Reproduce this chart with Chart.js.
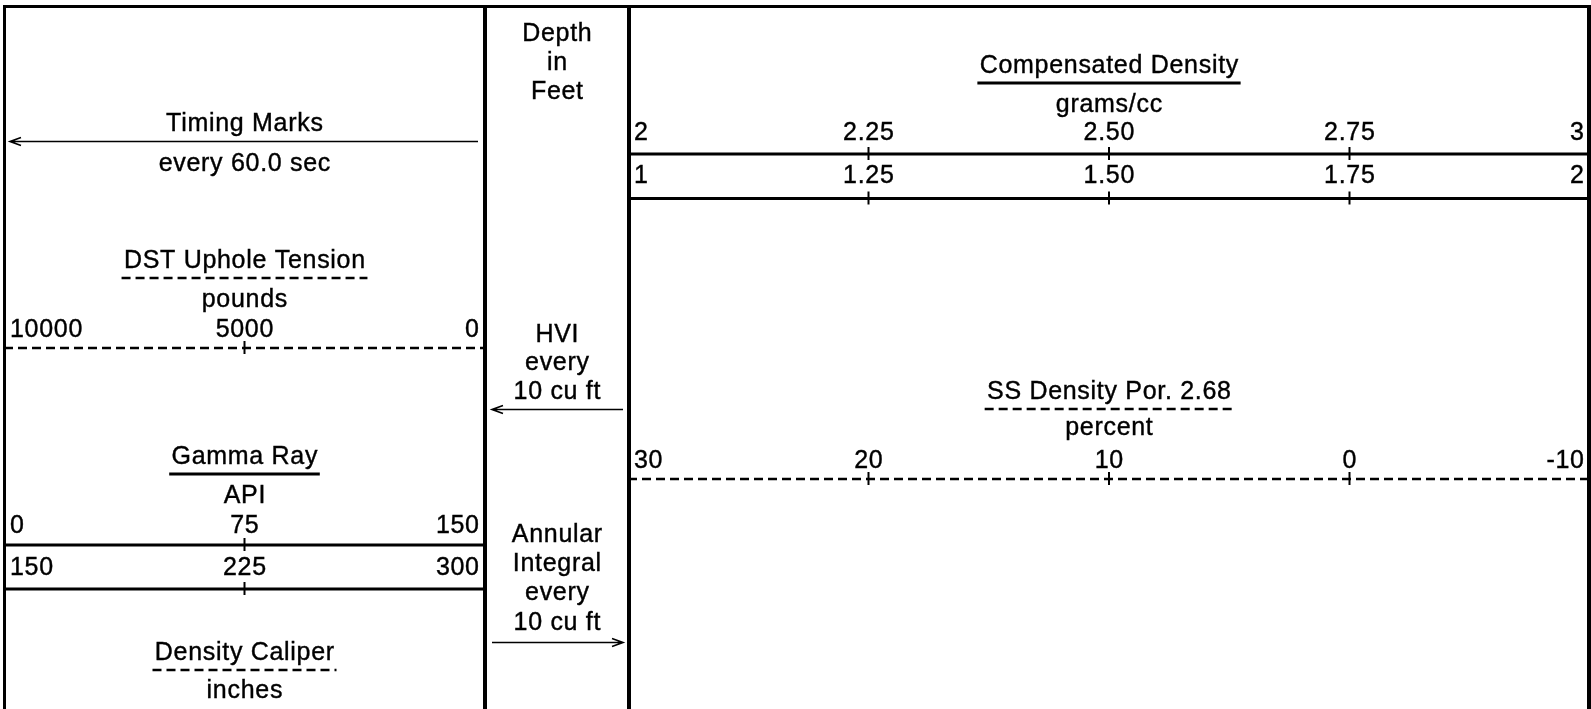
<!DOCTYPE html>
<html lang="en">
<head>
<meta charset="UTF-8">
<title>Log Header</title>
<script src="https://cdn.jsdelivr.net/npm/chart.js"></script>
<style>
  html, body { margin: 0; padding: 0; background: #fff; }
  #header { position: relative; width: 1591px; height: 709px; overflow: hidden; }
  #header canvas { position: absolute; top: 0; }
  .rule { position: absolute; background: #000; }
</style>
</head>
<body>
<div id="header">
  <canvas id="leftTrack" style="left:4px" width="481" height="709"></canvas>
  <canvas id="depthTrack" style="left:487px" width="140" height="709"></canvas>
  <canvas id="rightTrack" style="left:628px" width="962" height="709"></canvas>
  <div class="rule" style="left:3px;top:5px;width:1588px;height:3px"></div>
  <div class="rule" style="left:3px;top:5px;width:3px;height:704px"></div>
  <div class="rule" style="left:483px;top:5px;width:4px;height:704px"></div>
  <div class="rule" style="left:627px;top:5px;width:4px;height:704px"></div>
  <div class="rule" style="left:1587px;top:5px;width:4px;height:704px"></div>
</div>

<script>
// scale values of each curve
const tensionTicks = [10000, 5000, 0];
const tensionLabels = ['10000', '5000', '0'];
const gammaTicks = [0, 75, 150];
const gammaLabels = ['0', '75', '150'];
const gammaBackupTicks = [150, 225, 300];
const gammaBackupLabels = ['150', '225', '300'];
const densityTicks = [2, 2.25, 2.5, 2.75, 3];
const densityLabels = ['2', '2.25', '2.50', '2.75', '3'];
const densityBackupTicks = [1, 1.25, 1.5, 1.75, 2];
const densityBackupLabels = ['1', '1.25', '1.50', '1.75', '2'];
const porosityTicks = [30, 20, 10, 0, -10];
const porosityLabels = ['30', '20', '10', '0', '-10'];

// depth track captions
const depthLines = ['Depth', 'in', 'Feet'];
const hviLines = ['HVI', 'every', '10 cu ft'];
const annularLines = ['Annular', 'Integral', 'every', '10 cu ft'];

const FONT = '25px "Liberation Sans", Arial, sans-serif';
const SPACING = 0.7;

function axisFor(ticks) {
  const first = ticks[0], last = ticks[ticks.length - 1];
  return {
    type: 'linear', axis: 'x', display: false,
    min: Math.min(first, last), max: Math.max(first, last),
    reverse: first > last
  };
}

function hline(ctx, x0, x1, y, width, dashed) {
  ctx.save();
  ctx.lineWidth = width;
  ctx.setLineDash(dashed ? [9, 5] : []);
  ctx.beginPath();
  ctx.moveTo(x0, y);
  ctx.lineTo(x1, y);
  ctx.stroke();
  ctx.restore();
}

function arrow(ctx, x0, x1, y, head) {
  ctx.save();
  ctx.lineWidth = 1.6;
  ctx.beginPath();
  ctx.moveTo(x0, y);
  ctx.lineTo(x1, y);
  const hx = head === 'left' ? x0 : x1;
  const dir = head === 'left' ? 1 : -1;
  ctx.moveTo(hx + dir * 11, y - 4);
  ctx.lineTo(hx, y);
  ctx.lineTo(hx + dir * 11, y + 4);
  ctx.stroke();
  ctx.restore();
}

// filled text with a hairline stroke, closer to the heavy printer font
function label(ctx, text, x, y, align) {
  ctx.textAlign = align;
  ctx.fillText(text, x, y);
  ctx.strokeText(text, x, y);
}

function headerPlugin(items) {
  return {
    id: 'logHeader',
    afterDraw(chart) {
      const ctx = chart.ctx;
      const area = chart.chartArea;
      const cx = (area.left + area.right) / 2;
      ctx.save();
      ctx.font = FONT;
      ctx.letterSpacing = SPACING + 'px';
      ctx.fillStyle = '#000';
      ctx.strokeStyle = '#000';
      ctx.lineWidth = 0.4;
      ctx.textBaseline = 'alphabetic';

      items.forEach(item => {
        if (item.kind === 'text') {
          label(ctx, item.text, cx + SPACING / 2, item.y, 'center');
          if (item.underline) {
            const w = ctx.measureText(item.text).width + 4;
            const dashed = item.underline === 'dash';
            hline(ctx, cx - w / 2, cx + w / 2, item.y + 10, dashed ? 2.4 : 3, dashed);
          }
        } else if (item.kind === 'lines') {
          item.lines.forEach((t, i) => label(ctx, t, cx + SPACING / 2, item.y + i * item.step, 'center'));
        } else if (item.kind === 'scale') {
          const scale = chart.scales[item.scale];
          const n = item.values.length;
          item.values.forEach((v, i) => {
            const x = scale.getPixelForValue(v);
            if (i === 0) {
              label(ctx, item.labels[i], x + 6, item.y, 'left');
            } else if (i === n - 1) {
              label(ctx, item.labels[i], x - 6 + SPACING, item.y, 'right');
            } else {
              label(ctx, item.labels[i], x + SPACING / 2, item.y, 'center');
              ctx.save();
              ctx.lineWidth = 2;
              ctx.beginPath();
              ctx.moveTo(x, item.lineY - 7);
              ctx.lineTo(x, item.lineY + 6);
              ctx.stroke();
              ctx.restore();
            }
          });
          hline(ctx, area.left, area.right, item.lineY, item.dashed ? 2.4 : 3, item.dashed);
        } else if (item.kind === 'arrow') {
          arrow(ctx, area.left + item.inset[0], area.right - item.inset[1], item.y, item.head);
        }
      });
      ctx.restore();
    }
  };
}

function buildTrack(id, scales, items) {
  return new Chart(document.getElementById(id), {
    type: 'scatter',
    data: { datasets: [] },
    options: {
      responsive: false,
      animation: false,
      events: [],
      layout: { padding: 0 },
      plugins: { legend: { display: false }, tooltip: { enabled: false } },
      scales: Object.assign({
        x: { display: false, min: 0, max: 1 },
        y: { display: false, min: 0, max: 1 }
      }, scales)
    },
    plugins: [headerPlugin(items)]
  });
}

buildTrack('leftTrack', {
  tension: axisFor(tensionTicks),
  gamma: axisFor(gammaTicks),
  gammaBackup: axisFor(gammaBackupTicks)
}, [
  { kind: 'text', text: 'Timing Marks', y: 131 },
  { kind: 'arrow', y: 141.5, inset: [6, 7], head: 'left' },
  { kind: 'text', text: 'every 60.0 sec', y: 171 },
  { kind: 'text', text: 'DST Uphole Tension', y: 268, underline: 'dash' },
  { kind: 'text', text: 'pounds', y: 307 },
  { kind: 'scale', scale: 'tension', values: tensionTicks, labels: tensionLabels, y: 337, lineY: 348, dashed: true },
  { kind: 'text', text: 'Gamma Ray', y: 464, underline: 'solid' },
  { kind: 'text', text: 'API', y: 503 },
  { kind: 'scale', scale: 'gamma', values: gammaTicks, labels: gammaLabels, y: 533, lineY: 545, dashed: false },
  { kind: 'scale', scale: 'gammaBackup', values: gammaBackupTicks, labels: gammaBackupLabels, y: 575, lineY: 589, dashed: false },
  { kind: 'text', text: 'Density Caliper', y: 660, underline: 'dash' },
  { kind: 'text', text: 'inches', y: 698 }
]);

buildTrack('depthTrack', {}, [
  { kind: 'lines', lines: depthLines, y: 41, step: 29 },
  { kind: 'lines', lines: hviLines, y: 342, step: 28.3 },
  { kind: 'arrow', y: 409.5, inset: [5, 4], head: 'left' },
  { kind: 'lines', lines: annularLines, y: 542, step: 29.2 },
  { kind: 'arrow', y: 642.5, inset: [5, 4], head: 'right' }
]);

buildTrack('rightTrack', {
  density: axisFor(densityTicks),
  densityBackup: axisFor(densityBackupTicks),
  porosity: axisFor(porosityTicks)
}, [
  { kind: 'text', text: 'Compensated Density', y: 73, underline: 'solid' },
  { kind: 'text', text: 'grams/cc', y: 112 },
  { kind: 'scale', scale: 'density', values: densityTicks, labels: densityLabels, y: 140, lineY: 154, dashed: false },
  { kind: 'scale', scale: 'densityBackup', values: densityBackupTicks, labels: densityBackupLabels, y: 183, lineY: 198.5, dashed: false },
  { kind: 'text', text: 'SS Density Por. 2.68', y: 399, underline: 'dash' },
  { kind: 'text', text: 'percent', y: 435 },
  { kind: 'scale', scale: 'porosity', values: porosityTicks, labels: porosityLabels, y: 468, lineY: 479, dashed: true }
]);
</script>
</body>
</html>
